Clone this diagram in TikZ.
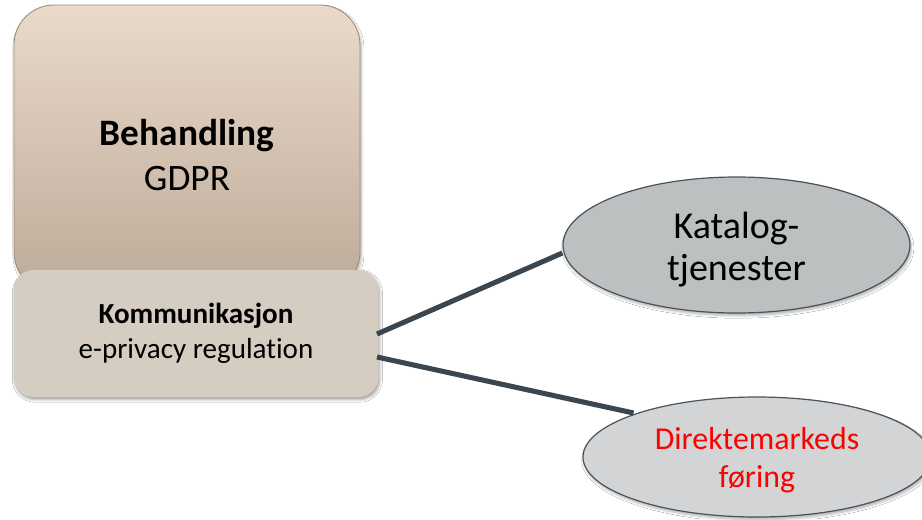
\documentclass[tikz,border=0pt]{standalone}
\usepackage{fontspec}
\setmainfont{Carlito}[Ligatures=NoCommon]
\usetikzlibrary{shapes.geometric,shadows.blur}
\definecolor{topA}{HTML}{EADACA}
\definecolor{topB}{HTML}{BDAB99}
\definecolor{lowfill}{HTML}{D5CCC2}
\definecolor{ellA}{HTML}{BDC0C1}
\definecolor{ellB}{HTML}{D3D4D5}
\definecolor{edge}{HTML}{4A525A}
\definecolor{conn}{HTML}{3C4650}
\tikzset{
  bigbox/.style={rounded corners=40*0.75pt, draw=topB!80!black, line width=0.6pt,
    top color=topA, bottom color=topB, blur shadow={shadow blur steps=5, shadow xshift=1pt, shadow yshift=-2pt, shadow opacity=30}},
  lowbox/.style={rounded corners=20*0.75pt, fill=lowfill, draw=none,
    blur shadow={shadow blur steps=5, shadow xshift=1pt, shadow yshift=-2pt, shadow opacity=35}},
  oval/.style={ellipse, draw=edge, line width=0.9pt, inner sep=0pt,
    blur shadow={shadow blur steps=5, shadow xshift=1pt, shadow yshift=-2pt, shadow opacity=30}},
  link/.style={draw=conn, line width=3.8pt},
}
\begin{document}
\begin{tikzpicture}[x=0.75pt,y=-0.75pt]
\useasboundingbox (0,0) rectangle (922,519);
\fill[white] (0,0) rectangle (922,519);
% top box
\path[bigbox] (14,5) rectangle (360,292);
\node[font=\fontsize{28}{34}\selectfont, align=center] (beh) at (187,155)
  {\textbf{Behandling}\\GDPR};
% lower box
\node[lowbox, minimum width=365*0.75pt, minimum height=127*0.75pt, inner sep=0pt,
  font=\fontsize{21.8}{26.3}\selectfont, align=center] (kom) at (196,333.5)
  {\textbf{Kommunikasjon}\\e-privacy regulation};
% ellipses
\node[oval, fill=ellA, minimum width=347*0.75pt, minimum height=136*0.75pt] (kat) at (736.5,245) {};
\node[font=\fontsize{28.5}{31.5}\selectfont, align=center, yshift=-4.5*0.75pt] (katT) at (kat.center)
  {Katalog-\\tjenester};
\node[oval, fill=ellB, minimum width=348*0.75pt, minimum height=120*0.75pt] (dir) at (757,457) {};
\node[font=\fontsize{23.9}{28.5}\selectfont, align=center, text=red, yshift=-3*0.75pt] (dirT) at (dir.center)
  {Direktemarkeds\\føring};
% connectors
\coordinate (k1) at (377,334);
\coordinate (k2) at (377,357);
\draw[link] (k1) -- (kat.west |- 0,253);
\draw[link] (k2) -- (dir.north west |- 0,413);
\end{tikzpicture}
\end{document}
